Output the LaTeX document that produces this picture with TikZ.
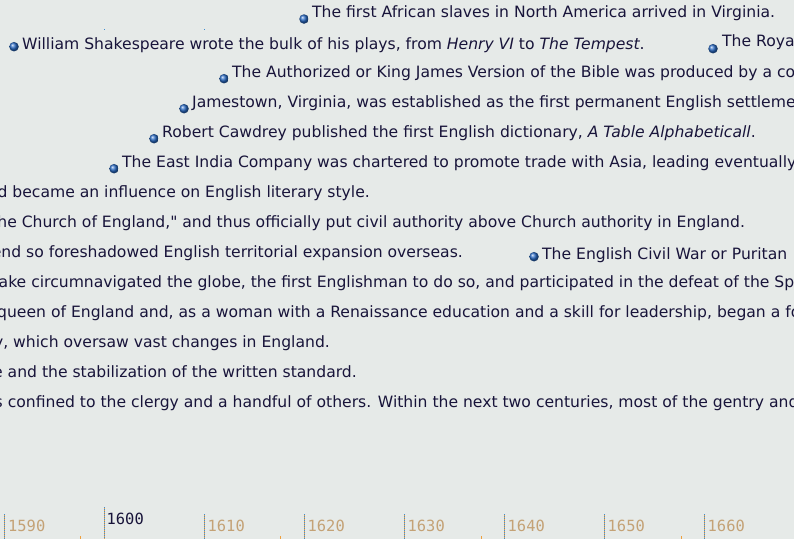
\documentclass[tikz,border=0pt]{standalone}
\usepackage{fontspec}
\setmainfont{DejaVu Sans}
\newfontfamily\straightfont{DejaVu Sans}
\newfontfamily\axisfont{DejaVu Sans Mono}
\usetikzlibrary{positioning}
\definecolor{bandbg}{RGB}{230,234,232}
\definecolor{evtext}{RGB}{24,20,58}
\definecolor{dotblue}{RGB}{40,105,195}
\definecolor{tickblue}{RGB}{60,140,210}
\definecolor{tickorange}{RGB}{240,160,60}
\definecolor{yearlabel}{RGB}{196,162,118}

\begin{document}
\begin{tikzpicture}
[
  x=1pt, y=-1pt,
  event/.style={anchor=base west, inner sep=0pt, text=evtext, font=\fontsize{15.6}{18}\selectfont},
  event end/.style={event, anchor=base east},
  my dot/.style={circle, minimum size=9.5pt, inner sep=0pt, shading=ball, ball color=dotblue},
  year/.style={anchor=base west, inner sep=0pt, text=yearlabel, font=\axisfont\fontsize{15.4}{18}\selectfont},
  decade line/.style={line width=1pt, dash pattern=on 1pt off 1pt}
]
\useasboundingbox (0,0) rectangle (794,539);
\fill [bandbg] (0,0) rectangle (794,539);
\clip (0,0) rectangle (794,539);

% events with a dot
\node (slaves dot) [my dot] at (304,19) {};
\node (slaves) [event] at (312,17) {The first African slaves in North America arrived in Virginia.};
\node (shakespeare dot) [my dot] at (14,46.7) {};
\node (shakespeare) [event] at (22,49) {William Shakespeare wrote the bulk of his plays, from \textit{Henry VI} to \textit{The Tempest}.};
\node (royal dot) [my dot] at (713,48.7) {};
\node (royal) [event] at (722,46.7) {The Roya};
\node (bible dot) [my dot] at (224,78.7) {};
\node (bible) [event] at (232,77.3) {The Authorized or King James Version of the Bible was produced by a co};
\node (jamestown dot) [my dot] at (184,108.7) {};
\node (jamestown) [event] at (192,107.3) {Jamestown, Virginia, was established as the first permanent English settleme};
\node (cawdrey dot) [my dot] at (154,138.7) {};
\node (cawdrey) [event] at (162,137.3) {Robert Cawdrey published the first English dictionary, \textit{A Table Alphabeticall}.};
\node (eastindia dot) [my dot] at (114,168.7) {};
\node (eastindia) [event] at (122,167.3) {The East India Company was chartered to promote trade with Asia, leading eventually};
\node (civilwar dot) [my dot] at (534,256.7) {};
\node (civilwar) [event] at (542,259.3) {The English Civil War or Puritan};

% events whose start lies left of the band
\node (literary) [event end] at (370,197) {d became an influence on English literary style.};
\node (church) [event end] at (745,227) {he Church of England,{\straightfont"} and thus officially put civil authority above Church authority in England.};
\node (expansion) [event end] at (463,257) {end so foreshadowed English territorial expansion overseas.};
\node (drake) [event] at (-1.5,287) {ake circumnavigated the globe, the first Englishman to do so, and participated in the defeat of the Spa};
\node (elizabeth) [event] at (-3,317) {queen of England and, as a woman with a Renaissance education and a skill for leadership, began a fo};
\node (dynasty) [event end] at (330,347) {y, which oversaw vast changes in England.};
\node (standard) [event end] at (357,377) {e and the stabilization of the written standard.};
\node (literacy) [event] at (-5.5,407) {s confined to the clergy and a handful of others. Within the next two centuries, most of the gentry and};

% stray marks
\fill [tickblue] (103.5,28.5) rectangle (104.5,29.5);
\fill [tickblue] (203.5,28.5) rectangle (204.5,29.5);

% decade axis
\foreach \k/\top in {0/514,1/507,2/514,3/514,4/514,5/514,6/514,7/514} {
  \draw [decade line, tickblue] (4.5+100*\k,\top) -- (4.5+100*\k,539);
  \draw [decade line, tickorange, dash phase=1pt] (4.5+100*\k,\top) -- (4.5+100*\k,539);
}
\foreach \x in {80,280,481,681}
  \draw [tickorange, line width=1pt] (\x,536) -- (\x,539);
\node (y1590) [year] at (8,531) {1590};
\node (y1600) [year, text=evtext] at (106.5,524) {1600};
\foreach \yr/\x in {1610/207.5,1620/307.5,1630/407.5,1640/507.5,1650/607.5,1660/707.5}
  \node (y\yr) [year] at (\x,531) {\yr};
\end{tikzpicture}
\end{document}
